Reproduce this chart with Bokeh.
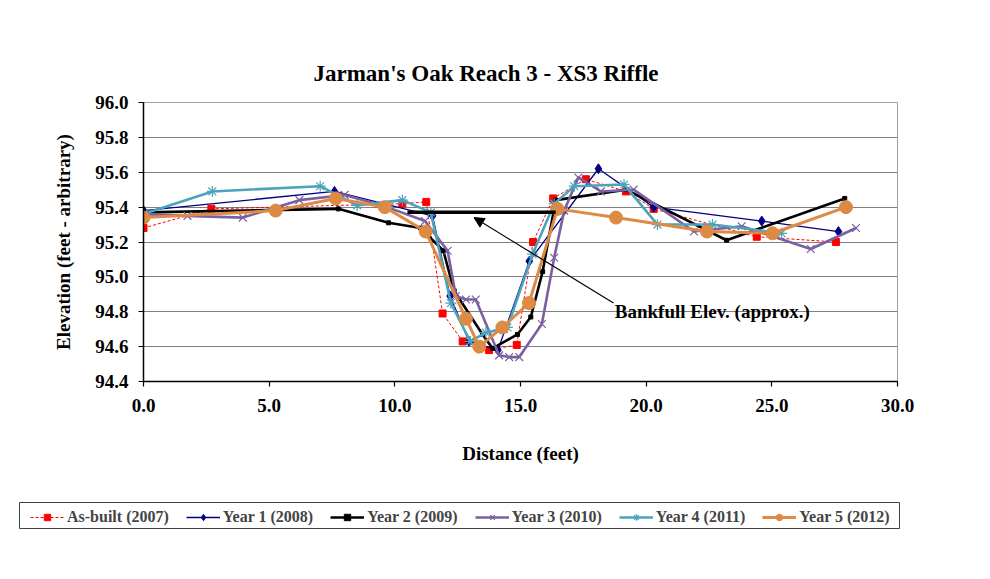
from bokeh.plotting import figure
from bokeh.layouts import column
from bokeh.models import (Range1d, FixedTicker, NumeralTickFormatter, Legend, LegendItem,
                          Label, Arrow, NormalHead, BoxAnnotation)
from bokeh.embed import file_html
from bokeh.resources import INLINE

# ---------------- data ----------------
asbuilt_x = [0.0, 2.7, 10.3, 11.25, 11.9, 12.7, 13.75, 14.85, 15.5, 16.3, 17.6, 19.2, 20.3, 24.4, 27.55]
asbuilt_y = [95.28, 95.39, 95.42, 95.43, 94.79, 94.63, 94.58, 94.61, 95.20, 95.45, 95.56, 95.49, 95.39, 95.23, 95.20]

year1_x = [0.0, 7.6, 11.5, 12.2, 12.95, 14.1, 15.35, 18.1, 20.3, 24.6, 27.65]
year1_y = [95.38, 95.49, 95.35, 94.89, 94.63, 94.58, 95.09, 95.62, 95.40, 95.32, 95.26]

year2_x = [0.0, 7.75, 9.75, 11.03, 11.93, 12.36, 13.49, 13.89, 14.88, 15.41, 15.88, 16.4, 19.2, 23.2, 27.9]
year2_y = [95.37, 95.39, 95.31, 95.28, 95.15, 94.92, 94.67, 94.59, 94.67, 94.77, 95.03, 95.44, 95.50, 95.21, 95.45]

year3_x = [0.0, 1.75, 3.95, 6.2, 8.0, 9.5, 11.2, 12.1, 12.43, 12.83, 13.22, 14.15, 14.55, 14.95,
           15.85, 16.34, 16.74, 17.3, 18.2, 19.5, 21.9, 23.8, 26.55, 28.35]
year3_y = [95.36, 95.35, 95.34, 95.44, 95.47, 95.41, 95.32, 95.15, 94.89, 94.87, 94.87, 94.55, 94.54, 94.54,
           94.73, 95.11, 95.38, 95.57, 95.49, 95.50, 95.26, 95.29, 95.16, 95.28]

year4_x = [0.0, 2.74, 7.03, 8.5, 10.3, 11.43, 12.23, 13.0, 13.62, 14.48, 15.48, 16.34, 17.14, 19.12, 20.45, 22.64, 25.39]
year4_y = [95.36, 95.49, 95.52, 95.41, 95.44, 95.37, 94.85, 94.63, 94.68, 94.71, 95.13, 95.42, 95.52, 95.53, 95.30, 95.30, 95.25]

year5_x = [0.0, 5.26, 7.65, 9.6, 11.23, 12.83, 13.36, 14.28, 15.34, 16.47, 18.8, 22.42, 25.03, 27.95]
year5_y = [95.34, 95.38, 95.45, 95.40, 95.26, 94.76, 94.60, 94.71, 94.85, 95.39, 95.34, 95.26, 95.25, 95.40]

bankfull_x = [10.5, 16.4]
bankfull_y = [95.37, 95.37]
bankfull_text = "Bankfull Elev. (approx.)"
arrow_from = (18.7, 94.85)
arrow_to = (13.15, 95.34)
label_pos = (18.75, 94.80)

x_ticks = [0, 5, 10, 15, 20, 25, 30]
y_ticks = [94.4, 94.6, 94.8, 95.0, 95.2, 95.4, 95.6, 95.8, 96.0]

title_text = "Jarman's Oak Reach 3 - XS3 Riffle"
series_names = ["As-built (2007)", "Year 1 (2008)", "Year 2 (2009)", "Year 3 (2010)",
                "Year 4 (2011)", "Year 5 (2012)"]

FONT = "Liberation Serif"

styles = [
    dict(color="#FF0000", width=1, dash="3 2", marker="square", size=7, filled=True),
    dict(color="#000080", width=1.3, dash="solid", marker="diamond", size=10, filled=True),
    dict(color="black", width=2.6, dash="solid", marker="square", size=4, filled=True),
    dict(color="#7B5FA1", width=2.6, dash="solid", marker="x", size=11, filled=False),
    dict(color="#4BA3BC", width=2.6, dash="solid", marker="asterisk", size=11, filled=False),
    dict(color="#DC8A44", width=3, dash="solid", marker="circle", size=13, filled=True),
]


def draw(fig, xs, ys, st):
    rl = fig.line(xs, ys, line_color=st["color"], line_width=st["width"], line_dash=st["dash"])
    if st["filled"]:
        rm = fig.scatter(xs, ys, marker=st["marker"], size=st["size"], fill_color=st["color"],
                         line_color=st["color"])
    else:
        rm = fig.scatter(xs, ys, marker=st["marker"], size=st["size"], line_color=st["color"],
                         line_width=1.2)
    return rl, rm


p = figure(width=986, height=490, output_backend="svg", toolbar_location=None,
           x_range=Range1d(0, 30), y_range=Range1d(94.4, 96.0),
           min_border_left=143, min_border_right=89, min_border_top=102, min_border_bottom=109)
p.frame_align = False
p.background_fill_color = "white"
p.border_fill_color = "white"
p.outline_line_color = "#A0A0A0"
p.outline_line_width = 1

p.title.text = title_text
p.title.align = "left"
p.title.offset = 170
p.title.standoff = 34
p.title.text_font = FONT
p.title.text_font_style = "bold"
p.title.text_font_size = "23px"
p.title.text_color = "black"

p.xgrid.visible = False
p.ygrid.grid_line_color = "#808080"
p.ygrid.grid_line_width = 1
p.ygrid.ticker = FixedTicker(ticks=y_ticks)

for ax in (p.xaxis[0], p.yaxis[0]):
    ax.axis_line_color = "black"
    ax.axis_line_width = 1.5
    ax.major_tick_line_color = "black"
    ax.major_tick_line_width = 1.2
    ax.major_tick_out = 5
    ax.major_tick_in = 0
    ax.minor_tick_line_color = None
    ax.major_label_text_font = FONT
    ax.major_label_text_font_style = "bold"
    ax.major_label_text_font_size = "19px"
    ax.major_label_text_color = "black"
    ax.axis_label_text_font = FONT
    ax.axis_label_text_font_style = "bold"
    ax.axis_label_text_font_size = "19px"
    ax.axis_label_text_color = "black"
    ax.formatter = NumeralTickFormatter(format="0.0")

p.xaxis[0].ticker = FixedTicker(ticks=x_ticks)
p.yaxis[0].ticker = FixedTicker(ticks=y_ticks)
p.xaxis[0].axis_label = "Distance (feet)"
p.yaxis[0].axis_label = "Elevation (feet - arbitrary)"
p.xaxis[0].major_label_standoff = 12
p.xaxis[0].axis_label_standoff = 28
p.yaxis[0].major_label_standoff = 10
p.yaxis[0].axis_label_standoff = 18

# ---------------- series ----------------
series = [(asbuilt_x, asbuilt_y), (year1_x, year1_y), (year2_x, year2_y),
          (year3_x, year3_y), (year4_x, year4_y), (year5_x, year5_y)]
for (xs, ys), st in zip(series, styles):
    draw(p, xs, ys, st)

# bankfull line, arrow, label
p.line(bankfull_x, bankfull_y, line_color="black", line_width=3.5)
p.add_layout(Arrow(end=NormalHead(size=10, fill_color="black", line_color="black"),
                   x_start=arrow_from[0], y_start=arrow_from[1], x_end=arrow_to[0], y_end=arrow_to[1],
                   line_color="black", line_width=1.2))
p.add_layout(Label(x=label_pos[0], y=label_pos[1], text=bankfull_text, text_font=FONT,
                   text_font_style="bold", text_font_size="19px", text_baseline="middle",
                   text_align="left", text_color="black"))

# ---------------- legend strip (separate figure below) ----------------
# the series are drawn again here but fall outside this strip's ranges; only the legend shows
LG_W, LG_H = 986, 87
lg = figure(width=LG_W, height=LG_H, output_backend="svg", toolbar_location=None,
            x_axis_type=None, y_axis_type=None, x_range=Range1d(0, LG_W), y_range=Range1d(LG_H, 0),
            min_border=0, min_border_left=0, min_border_right=0, min_border_top=0, min_border_bottom=0)
lg.frame_align = False
lg.outline_line_color = None
lg.xgrid.visible = False
lg.ygrid.visible = False
lg.background_fill_color = "white"
lg.border_fill_color = "white"

items = []
for name, (xs, ys), st in zip(series_names, series, styles):
    rl, rm = draw(lg, xs, ys, st)
    items.append(LegendItem(label=name, renderers=[rl, rm]))

# legend frame box (pixel positions inside the strip)
lg.add_layout(BoxAnnotation(left=19, right=899, top=12, bottom=38, fill_alpha=0,
                            line_color="#404040", line_width=1, line_alpha=1))

legend = Legend(items=items, orientation="horizontal", location=(30, 51),
                label_text_font=FONT, label_text_font_style="bold", label_text_font_size="16px",
                glyph_width=34, glyph_height=16, label_height=16, label_standoff=3, spacing=17,
                padding=4, margin=0, border_line_color=None,
                background_fill_color="white", background_fill_alpha=0)
lg.add_layout(legend, "center")

layout = column(p, lg, spacing=0)
open("out.html", "w").write(file_html(layout, INLINE))
